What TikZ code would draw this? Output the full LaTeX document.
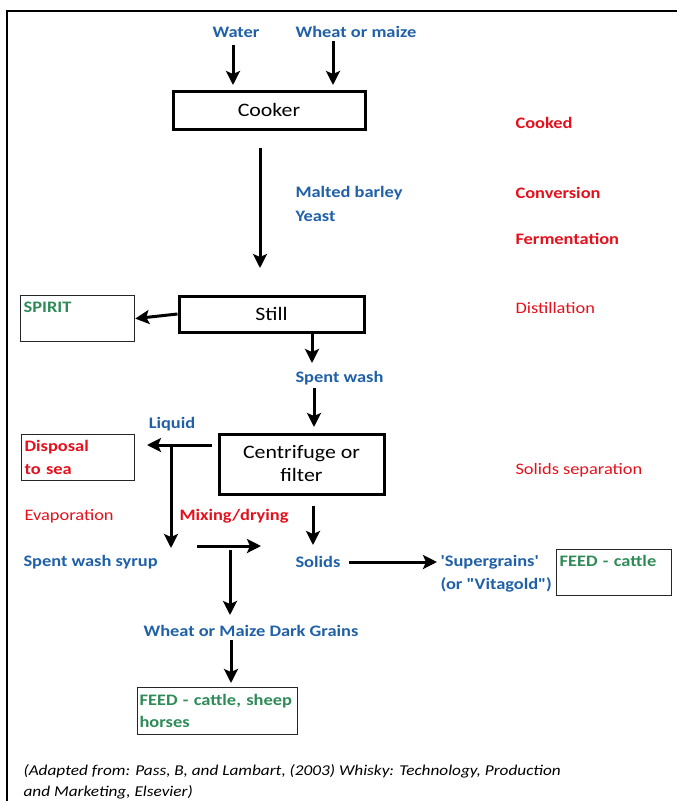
\documentclass[tikz,border=0pt]{standalone}
\usepackage{fontspec}
\setmainfont{Carlito}[FakeStretch=1.15,Ligatures=TeXOff]
\usetikzlibrary{arrows.meta}

\definecolor{flowblue}{RGB}{31,96,168}
\definecolor{stagered}{RGB}{228,16,28}
\definecolor{feedgreen}{RGB}{46,139,87}

\tikzset{
	proc/.style={draw,line width=3pt,font=\fontsize{19}{23}\selectfont,align=center},
	outbox/.style={draw=black!85,line width=1.2pt,anchor=north west,align=left,inner sep=3pt,
		font=\bfseries\fontsize{16}{22.5}\selectfont},
	input/.style={text=flowblue,font=\bfseries\fontsize{16}{22.5}\selectfont},
	stage/.style={text=stagered,anchor=west,font=\bfseries\fontsize{16}{22.5}\selectfont},
	stagelight/.style={text=stagered,anchor=west,font=\fontsize{16}{22.5}\selectfont},
	flow/.style={line width=3pt,-{Stealth[length=14pt,width=14pt,inset=3pt]}},
}

\begin{document}
\begin{tikzpicture}[x=1pt,y=-1pt]
	\useasboundingbox (0,0) rectangle (677,801);
	\draw[line width=1.3pt] (677,11) -- (7,11) -- (7,801);

	\node[input] (water) at (236,32) {Water};
	\node[input] (grain) at (356,32) {Wheat or maize};
	\node[proc,minimum width=192pt,minimum height=38pt] (cooker) at (269,110) {Cooker};
	\node[stage] (cooked) at (512,123) {Cooked};
	\node[input,anchor=west] (barley) at (292,193) {Malted barley};
	\node[input,anchor=west] (yeast) at (292,216) {Yeast};
	\node[stage] (conversion) at (512,193) {Conversion};
	\node[stage] (ferment) at (512,239) {Fermentation};

	\node[proc,minimum width=185pt,minimum height=36pt] (still) at (271.5,314) {Still};
	\node[outbox,text=feedgreen,text width=108pt,minimum height=46pt] (spirit) at (20,295) {SPIRIT\\\mbox{}};
	\node[stagelight] (distil) at (512,308) {Distillation};
	\node[input,anchor=west] (spentwash) at (292,378) {Spent wash};

	\node[proc,minimum width=165pt,minimum height=60pt] (centrifuge) at (301.5,464) {Centrifuge or\\filter};
	\node[stagelight] (solidsep) at (512,470) {Solids separation};
	\node[input] (liquid) at (172,424) {Liquid};
	\node[outbox,text=stagered,text width=107pt,minimum height=46pt] (disposal) at (21,434) {Disposal\\to sea};
	\node[stagelight] (evap) at (21,516) {Evaporation};
	\node[stage] (mixing) at (176,516) {Mixing/drying};
	\node[input,anchor=west] (syrup) at (20,562) {Spent wash syrup};
	\node[input,anchor=west] (solids) at (292,562) {Solids};
	\node[input,anchor=west,align=left] (supergrains) at (437,573.5) {'Supergrains'\\(or "Vitagold")};
	\node[outbox,text=feedgreen,text width=109pt,minimum height=46pt] (feedcattle) at (556,549) {FEED - cattle\\\mbox{}};

	\node[input] (darkgrains) at (251,631) {Wheat or Maize Dark Grains};
	\node[outbox,text=feedgreen,text width=156pt,inner sep=2pt,minimum height=47pt] (feedall) at (137,687) {FEED - cattle, sheep\\horses};

	\node[anchor=west,align=left,font=\itshape\fontsize{15}{21}\selectfont] (source) at (20,781.5)
		{(Adapted from: Pass, B, and Lambart, (2003) Whisky: Technology, Production\\and Marketing, Elsevier)};

	\coordinate (tWater) at (233,85);
	\coordinate (tGrain) at (333,85);
	\coordinate (tCook) at (260,268);
	\coordinate (tStill) at (312,363);
	\coordinate (tCentre) at (314,427);
	\coordinate (tLiquid) at (147,445);
	\coordinate (tSyrup) at (171,548);
	\coordinate (mixStart) at (197,546);
	\coordinate (tMix) at (261,546);
	\coordinate (tDark) at (230,615);
	\coordinate (tSolids) at (313,545);
	\coordinate (tFeed) at (231,683);

	\draw[flow,shorten <=4pt] (water.south -| tWater) -- (tWater);
	\draw[flow] (grain.south -| tGrain) -- (tGrain);
	\draw[flow,shorten <=17pt] (cooker.south -| tCook) -- (tCook);
	\draw[flow] (still.west) -- (spirit.east);
	\draw[flow] (still.south -| tStill) -- (tStill);
	\draw[flow] (spentwash.south -| tCentre) -- (tCentre);
	\draw[flow,shorten <=6pt] (centrifuge.west |- tLiquid) -- (tLiquid);
	\draw[flow] (tLiquid -| tSyrup) -- (tSyrup);
	\draw[flow] (mixStart) -- (tMix);
	\draw[flow,shorten <=4pt] (tMix -| tDark) -- (tDark);
	\draw[flow,shorten <=10pt] (centrifuge.south -| tSolids) -- (tSolids);
	\draw[flow,shorten <=5pt] (solids.east) -- (solids.east -| supergrains.west);
	\draw[flow] (darkgrains.south -| tFeed) -- (tFeed);
\end{tikzpicture}
\end{document}
